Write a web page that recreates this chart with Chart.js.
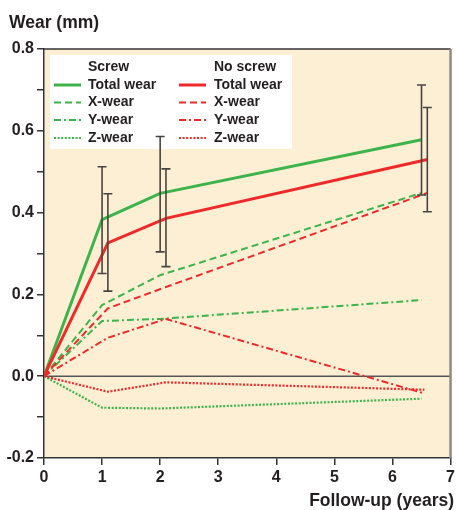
<!DOCTYPE html>
<html>
<head>
<meta charset="utf-8">
<script src="https://cdn.jsdelivr.net/npm/chart.js@4.4.0/dist/chart.umd.min.js"></script>
<style>
  html, body { margin: 0; padding: 0; background: #ffffff; }
  #wrap { width: 458px; height: 510px; position: relative; }
</style>
</head>
<body>
<div id="wrap"><canvas id="c" width="458" height="510"></canvas></div>
<script>
// ---- Data ----
const yTitle = "Wear (mm)";
const xTitle = "Follow-up (years)";
const groupNames = ["Screw", "No screw"];
const seriesNames = ["Total wear", "X-wear", "Y-wear", "Z-wear"];

// Screw (green) follow-up times and values
const screwX = [0, 1.0, 2.0, 6.5];
const screwTotal = [0, 0.383, 0.447, 0.578];
const screwXwear = [0, 0.174, 0.247, 0.448];
const screwYwear = [0, 0.135, 0.140, 0.186];
const screwZwear = [0, -0.077, -0.079, -0.055];
const screwErrLow = [null, 0.251, 0.304, 0.443];
const screwErrHigh = [null, 0.512, 0.586, 0.712];

// No screw (red) follow-up times and values
const noScrewX = [0, 1.1, 2.1, 6.6];
const noScrewXshort = [0, 1.1, 2.1, 6.55];
const noScrewTotal = [0, 0.326, 0.386, 0.530];
const noScrewXwear = [0, 0.166, 0.218, 0.448];
const noScrewYwear = [0, 0.094, 0.140, -0.042];
const noScrewZwear = [0, -0.038, -0.015, -0.033];
const noScrewErrLow = [null, 0.208, 0.268, 0.402];
const noScrewErrHigh = [null, 0.446, 0.507, 0.657];

const xTicks = [0, 1, 2, 3, 4, 5, 6, 7];

// ---- Styles ----
const GREEN = "#3cb44b";
const RED = "#ee2a2a";
const TEXT = "#231f20";
const FONT = "'Liberation Sans', Arial, sans-serif";
const styles = [
  { width: 3, dash: [] },
  { width: 2, dash: [7, 4] },
  { width: 2, dash: [7, 3, 2, 3] },
  { width: 2.2, dash: [2, 1.6] }
];

function pts(xs, ys) { return xs.map((x, i) => ({ x: x, y: ys[i] })); }

const screwSeries = [screwTotal, screwXwear, screwYwear, screwZwear];
const noScrewSeries = [noScrewTotal, noScrewXwear, noScrewYwear, noScrewZwear];
const noScrewXs = [noScrewX, noScrewX, noScrewXshort, noScrewXshort];

const datasets = [];
screwSeries.forEach((ys, i) => {
  datasets.push({
    label: groupNames[0] + " " + seriesNames[i],
    data: pts(screwX, ys),
    borderColor: GREEN, backgroundColor: GREEN,
    borderWidth: styles[i].width, borderDash: styles[i].dash,
    pointRadius: 0, tension: 0, fill: false, order: 2
  });
});
noScrewSeries.forEach((ys, i) => {
  datasets.push({
    label: groupNames[1] + " " + seriesNames[i],
    data: pts(noScrewXs[i], ys),
    borderColor: RED, backgroundColor: RED,
    borderWidth: styles[i].width, borderDash: styles[i].dash,
    pointRadius: 0, tension: 0, fill: false, order: 1
  });
});

// ---- Plugins ----
const backgroundPlugin = {
  id: "bg",
  beforeDraw(chart) {
    const { ctx, chartArea: a, scales } = chart;
    ctx.save();
    ctx.fillStyle = "#fdefd4";
    ctx.fillRect(a.left, a.top, a.right - a.left, a.bottom - a.top);
    // zero line
    const y0 = scales.y.getPixelForValue(0);
    ctx.strokeStyle = "#555555";
    ctx.lineWidth = 1.5;
    ctx.beginPath();
    ctx.moveTo(a.left, y0);
    ctx.lineTo(a.right, y0);
    ctx.stroke();
    ctx.restore();
  },
  afterDraw(chart) {
    const { ctx, chartArea: a } = chart;
    ctx.save();
    // frame
    ctx.strokeStyle = "#333333";
    ctx.lineWidth = 1.5;
    ctx.beginPath();
    ctx.moveTo(a.left, a.top); ctx.lineTo(a.right, a.top);
    ctx.stroke();
    ctx.strokeStyle = "#8f8a86";
    ctx.lineWidth = 2.5;
    ctx.beginPath();
    ctx.moveTo(a.right, a.top); ctx.lineTo(a.right, a.bottom);
    ctx.stroke();
    // titles
    ctx.fillStyle = TEXT;
    ctx.font = "bold 17.5px " + FONT;
    ctx.textBaseline = "alphabetic";
    ctx.textAlign = "left";
    ctx.fillText(yTitle, 9, 28);
    ctx.textAlign = "right";
    ctx.fillText(xTitle, 454, 506);
    ctx.restore();
  }
};

const legendPlugin = {
  id: "customLegend",
  afterDraw(chart) {
    const { ctx } = chart;
    ctx.save();
    ctx.fillStyle = "#ffffff";
    ctx.fillRect(50, 55, 242, 94);
    ctx.font = "bold 14px " + FONT;
    ctx.textBaseline = "middle";
    ctx.textAlign = "left";
    const cols = [
      { sx: 54, tx: 88, color: GREEN },
      { sx: 179, tx: 214, color: RED }
    ];
    const rowY = [67, 85, 102.5, 120, 138];
    cols.forEach((c, ci) => {
      ctx.fillStyle = TEXT;
      ctx.fillText(groupNames[ci], c.tx, rowY[0]);
      seriesNames.forEach((name, i) => {
        const y = rowY[i + 1];
        ctx.strokeStyle = c.color;
        ctx.lineWidth = styles[i].width;
        ctx.setLineDash(styles[i].dash);
        ctx.beginPath();
        ctx.moveTo(c.sx, y); ctx.lineTo(c.sx + 27, y);
        ctx.stroke();
        ctx.setLineDash([]);
        ctx.fillStyle = TEXT;
        ctx.fillText(name, c.tx, y);
      });
    });
    ctx.restore();
  }
};

const errorBarPlugin = {
  id: "errbars",
  afterDraw(chart) {
    const { ctx, scales } = chart;
    const groups = [
      { xs: screwX, lo: screwErrLow, hi: screwErrHigh },
      { xs: noScrewX, lo: noScrewErrLow, hi: noScrewErrHigh }
    ];
    ctx.save();
    ctx.strokeStyle = "#4a4440";
    ctx.lineWidth = 1.6;
    groups.forEach(g => {
      g.xs.forEach((x, i) => {
        if (g.lo[i] == null) return;
        const px = scales.x.getPixelForValue(x);
        const pl = scales.y.getPixelForValue(g.lo[i]);
        const ph = scales.y.getPixelForValue(g.hi[i]);
        ctx.beginPath();
        ctx.moveTo(px, pl); ctx.lineTo(px, ph);
        ctx.moveTo(px - 4.5, pl); ctx.lineTo(px + 4.5, pl);
        ctx.moveTo(px - 4.5, ph); ctx.lineTo(px + 4.5, ph);
        ctx.stroke();
      });
    });
    ctx.restore();
  }
};

new Chart(document.getElementById("c"), {
  type: "line",
  data: { datasets: datasets },
  plugins: [backgroundPlugin, legendPlugin, errorBarPlugin],
  options: {
    responsive: false,
    animation: false,
    events: [],
    layout: { padding: { top: 49, right: 5, left: 0, bottom: 0 } },
    plugins: { legend: { display: false }, tooltip: { enabled: false }, title: { display: false } },
    scales: {
      x: {
        type: "linear", min: 0, max: 7,
        afterBuildTicks(scale) { scale.ticks = xTicks.map(v => ({ value: v })); },
        afterFit(scale) { scale.height = 52; },
        ticks: { color: TEXT, font: { family: FONT, size: 16, weight: "bold" }, padding: 3, maxRotation: 0, callback: v => String(v) },
        grid: { drawOnChartArea: false, drawTicks: true, tickLength: 7, color: "#333333", lineWidth: 1.5 },
        border: { display: true, color: "#333333", width: 1.5 }
      },
      y: {
        type: "linear", min: -0.2, max: 0.8,
        ticks: {
          stepSize: 0.1, color: TEXT, font: { family: FONT, size: 16, weight: "bold" }, padding: 3,
          callback: v => (Math.round(v * 10) % 2 === 0 ? v.toFixed(1) : "")
        },
        afterFit(scale) { scale.width = 44; },
        grid: { drawOnChartArea: false, drawTicks: true, tickLength: 7, color: "#333333", lineWidth: 1.5 },
        border: { display: true, color: "#333333", width: 1.5 }
      }
    }
  }
});
</script>
</body>
</html>
